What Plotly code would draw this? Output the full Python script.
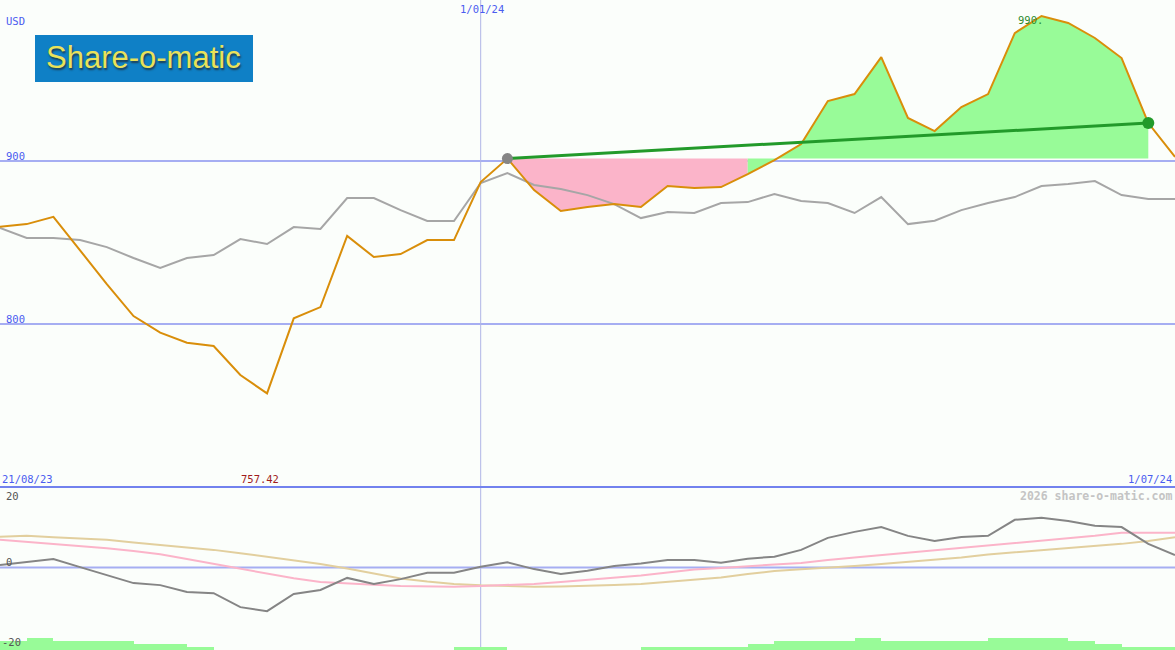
import plotly.graph_objects as go

W, H = 1175, 650

# ---------------- data ----------------
weeks = list(range(45))  # weekly points, 21/08/23 .. 1/07/24
price = [859.7, 861.3, 865.8, 845.4, 824.5, 804.9, 794.7, 788.5, 786.5, 768.7,
         757.42, 803.5, 810.4, 854.0, 841.1, 842.9, 851.5, 851.5, 887.1, 901.5,
         882.2, 869.3, 871.8, 873.6, 871.8, 884.7, 883.4, 884.0, 892.0, 900.6,
         910.4, 936.8, 941.1, 963.8, 926.4, 918.4, 933.1, 941.1, 978.5, 989.0,
         984.7, 975.5, 963.2, 923.3, 902.5]
index_line = [858.9, 852.8, 852.8, 851.5, 847.2, 840.5, 834.4, 840.5, 842.3, 852.1,
              849.1, 859.5, 858.3, 877.3, 877.3, 869.9, 863.2, 863.2, 886.5, 892.6,
              885.3, 882.8, 879.1, 873.6, 865.0, 868.7, 868.1, 874.2, 874.8, 879.8,
              875.5, 874.2, 868.1, 877.9, 861.3, 863.4, 869.9, 874.2, 877.9, 884.7,
              885.9, 887.7, 879.1, 876.7, 876.7]
osc = [0.6, 1.4, 2.1, 0.1, -1.9, -3.9, -4.4, -6.1, -6.4, -9.9,
       -10.9, -6.6, -5.6, -2.6, -4.1, -2.9, -1.3, -1.3, 0.2, 1.3,
       -0.4, -1.6, -0.8, 0.4, 1.0, 1.9, 1.9, 1.2, 2.2, 2.7,
       4.4, 7.4, 8.9, 10.1, 7.9, 6.6, 7.6, 7.9, 11.9, 12.4,
       11.6, 10.4, 10.1, 5.9, 3.1]
pink_ma = [6.9, 6.4, 5.9, 5.4, 4.8, 4.1, 3.3, 2.1, 0.9, -0.4,
           -1.5, -2.7, -3.6, -4.0, -4.3, -4.6, -4.75, -4.8, -4.6, -4.3,
           -4.1, -3.6, -3.1, -2.6, -2.0, -1.25, -0.5, -0.1, 0.4, 0.75,
           1.1, 1.9, 2.5, 3.1, 3.7, 4.2, 4.75, 5.4, 6.0, 6.6,
           7.3, 7.9, 8.7, 8.7, 8.7]
tan_ma = [7.7, 7.9, 7.55, 7.25, 6.9, 6.25, 5.6, 5.0, 4.4, 3.55,
          2.7, 1.75, 0.9, -0.25, -1.45, -2.75, -3.5, -4.1, -4.45, -4.7,
          -4.8, -4.75, -4.6, -4.4, -4.1, -3.6, -3.1, -2.5, -1.6, -0.9,
          -0.45, -0.1, 0.4, 0.9, 1.4, 1.9, 2.5, 3.25, 3.8, 4.25,
          4.8, 5.3, 5.9, 6.6, 7.55]
vol_level = [3, 4, 3, 3, 3, 2, 2, 1, 0, 0,
             0, 0, 0, 0, 0, 0, 0, 1, 1, 0,
             0, 0, 0, 0, 1, 1, 1, 1, 2, 3,
             3, 3, 4, 3, 3, 3, 3, 4, 4, 4,
             3, 2, 1, 1]

start_i, switch_i, end_i = 19, 28, 43   # buy point, colour switch, last marker
date_line_i = 18
min_i, max_i = 10, 39
grid_levels = [900, 800]

# ---------------- geometry helpers ----------------
split_px = 487
split = 1 - split_px / H
def px(x): return x / W
def py(y): return 1 - y / H

BLUE_TXT = "#4a5cf0"
FONT = "DejaVu Sans Mono"

fig = go.Figure()

base = price[start_i]
# pink fill (below start price)
xs = weeks[start_i:switch_i + 1]
ys = price[start_i:switch_i + 1]
fig.add_trace(go.Scatter(x=xs + [xs[-1], xs[0]], y=ys + [base, base], fill="toself",
                         fillcolor="#fbb4c9", line=dict(width=0), mode="lines",
                         hoverinfo="skip", showlegend=False, xaxis="x", yaxis="y"))
# green fill
xs = weeks[switch_i:end_i + 1]
ys = price[switch_i:end_i + 1]
fig.add_trace(go.Scatter(x=xs + [xs[-1], xs[0]], y=ys + [base, base], fill="toself",
                         fillcolor="#98fb98", line=dict(width=0), mode="lines",
                         hoverinfo="skip", showlegend=False, xaxis="x", yaxis="y"))

fig.add_trace(go.Scatter(x=weeks, y=index_line, mode="lines",
                         line=dict(color="#a6a6a6", width=2), showlegend=False,
                         xaxis="x", yaxis="y"))
fig.add_trace(go.Scatter(x=weeks, y=price, mode="lines",
                         line=dict(color="#d98e0a", width=2), showlegend=False,
                         xaxis="x", yaxis="y"))
# trend line
fig.add_trace(go.Scatter(x=[weeks[start_i], weeks[end_i]], y=[price[start_i], price[end_i]],
                         mode="lines", line=dict(color="#229a2a", width=3),
                         showlegend=False, xaxis="x", yaxis="y"))
fig.add_trace(go.Scatter(x=[weeks[start_i]], y=[price[start_i]], mode="markers",
                         marker=dict(color="#858585", size=11), showlegend=False,
                         xaxis="x", yaxis="y"))
fig.add_trace(go.Scatter(x=[weeks[end_i]], y=[price[end_i]], mode="markers",
                         marker=dict(color="#229a2a", size=12), showlegend=False,
                         xaxis="x", yaxis="y"))

# lower panel
fig.add_trace(go.Bar(x=[w + 0.5 for w in weeks[:-1]], y=vol_level, width=1,
                     marker=dict(color="#98fb98", line=dict(width=0)),
                     showlegend=False, xaxis="x", yaxis="y3"))
fig.add_trace(go.Scatter(x=weeks, y=tan_ma, mode="lines",
                         line=dict(color="#e2cf9e", width=2), showlegend=False,
                         xaxis="x", yaxis="y2"))
fig.add_trace(go.Scatter(x=weeks, y=pink_ma, mode="lines",
                         line=dict(color="#fbb4c9", width=2), showlegend=False,
                         xaxis="x", yaxis="y2"))
fig.add_trace(go.Scatter(x=weeks, y=osc, mode="lines",
                         line=dict(color="#858585", width=2), showlegend=False,
                         xaxis="x", yaxis="y2"))

shapes = []
for lv in grid_levels:
    shapes.append(dict(type="line", xref="paper", yref="y", x0=0, x1=1, y0=lv, y1=lv,
                       line=dict(color="#a6aef2", width=2), layer="below"))
shapes.append(dict(type="line", xref="paper", yref="y2", x0=0, x1=1, y0=0, y1=0,
                   line=dict(color="#a6aef2", width=2), layer="below"))
shapes.append(dict(type="line", xref="x", yref="paper", x0=date_line_i, x1=date_line_i,
                   y0=0, y1=1, line=dict(color="#b0b6e6", width=1), layer="below"))
shapes.append(dict(type="line", xref="paper", yref="paper", x0=0, x1=1, y0=split, y1=split,
                   line=dict(color="#7282ee", width=2)))
# logo box
shapes.append(dict(type="rect", xref="paper", yref="paper", x0=px(35), x1=px(253),
                   y0=py(82), y1=py(35), fillcolor="#0f80c6", line=dict(width=0)))

def ann(text, x, y, xa="left", color=BLUE_TXT, size=10.5, weight="normal", xref="paper"):
    return dict(text=text, x=x, y=py(y), xref=xref, yref="paper", xanchor=xa,
                yanchor="middle", showarrow=False, borderpad=0,
                font=dict(family=FONT, size=size, color=color, weight=weight))

annotations = [
    ann("USD", px(5), 21),
    ann("900", px(5), 156),
    ann("800", px(5), 319),
    ann("1/01/24", date_line_i + 0.05, 9, xa="center", xref="x"),
    ann("21/08/23", px(1), 479),
    ann(f"{price[min_i]:.2f}", weeks[min_i] - 0.27, 479, xa="center", color="#a01c1c", xref="x"),
    ann("1/07/24", px(1173), 479, xa="right"),
    ann("2026 share-o-matic.com", px(1173), 496, xa="right", color="#c4c4c4", size=11.5, weight="bold"),
    ann("20", px(5), 496, color="#555555"),
    ann("0", px(5), 562, color="#555555"),
    ann("-20", px(1), 642, color="#555555"),
    ann(f"{int(round(price[max_i], -1))}.", 38.1, 20, color="#2e8b2e", xref="x"),
    dict(text="Share-o-matic", x=px(143), y=py(58), xref="paper", yref="paper",
         xanchor="center", yanchor="middle", showarrow=False,
         font=dict(family="Liberation Sans", size=31, color="#e9e25a",
                   shadow="1px 2px 2px #1d3b50")),
]

fig.update_layout(
    width=W, height=H,
    margin=dict(l=0, r=0, t=0, b=0),
    paper_bgcolor="#fbfefb", plot_bgcolor="#fbfefb",
    showlegend=False, bargap=0,
    xaxis=dict(range=[0, 44], visible=False, fixedrange=True),
    yaxis=dict(domain=[split, 1], range=[700, 998.8], visible=False),
    yaxis2=dict(domain=[0, split], range=[-20.6, 20.1], visible=False),
    yaxis3=dict(domain=[0, split], range=[0, 54], visible=False, overlaying="y2"),
    shapes=shapes, annotations=annotations,
)

fig.write_html("out.html", config={"displayModeBar": False},
               post_script="document.body.style.margin='0';document.body.style.background='#fbfefb';")
